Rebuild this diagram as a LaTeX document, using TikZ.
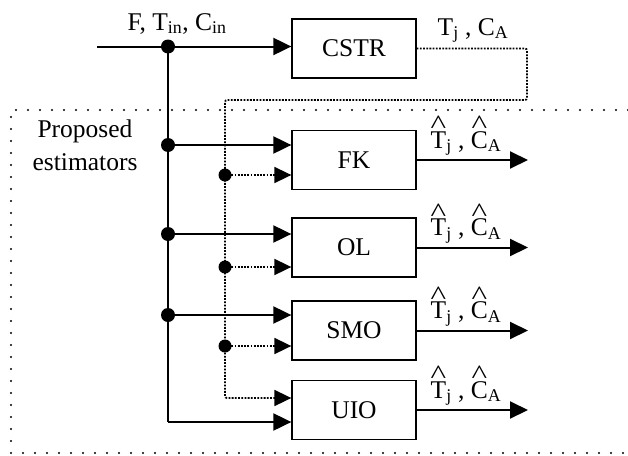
\documentclass[tikz,border=0pt]{standalone}
\usepackage{fontspec}
\setmainfont{Liberation Serif}
\usetikzlibrary{arrows.meta}
\newcommand\hatc[1]{\ooalign{#1\cr\hidewidth\raisebox{0.55em}{\scalebox{1.3}[1.05]{\string^}}\hidewidth\cr}}
\begin{document}
\begin{tikzpicture}[x=1pt,y=-1pt,font=\fontsize{25.5}{30}\selectfont,
  box/.style={draw,line width=1.3pt,minimum width=124pt,minimum height=59pt,inner sep=0pt},
  sig/.style={line width=2pt,-{Triangle[length=18pt,width=17pt]}},
  dsig/.style={line width=1.8pt,dash pattern=on 1.8pt off 1.4pt,-{Triangle[length=17pt,width=16pt]}},
  sline/.style={line width=2pt},
  jdot/.style={circle,fill,inner sep=0pt,minimum size=14pt},
  frame/.style={line width=2.2pt,line cap=round,dash pattern=on 0pt off 12pt},
  lbl/.style={anchor=base,inner sep=0pt}]
\useasboundingbox (0,0) rectangle (628,455);
% frame
\draw[frame] (628,110) -- (11,110) -- (11,453) -- (628,453);
% boxes
\node[box] (cstr) at (354,48.5) {CSTR};
\node[box] (fk) at (354,160) {FK};
\node[box] (ol) at (354,247.5) {OL};
\node[box] (smo) at (354,330.5) {SMO};
\node[box] (uio) at (354,410) {UIO};
% coordinates
\coordinate (src) at (97,46.5);
\coordinate (j0) at (168,46.5);
\coordinate (j1) at (168,145);
\coordinate (j2) at (168,234);
\coordinate (j3) at (168,315);
\coordinate (jend) at (168,422);
\coordinate (fb1) at (527,48.5);
\coordinate (fb2) at (527,100);
\coordinate (fb3) at (225,100);
\coordinate (d1) at (225,175);
\coordinate (d2) at (225,267);
\coordinate (d3) at (225,346);
\coordinate (dend) at (225,398);
\coordinate (o1) at (528,160);
\coordinate (o2) at (528,247.5);
\coordinate (o3) at (528,330.5);
\coordinate (o4) at (528,410);
% solid input
\draw[sig] (src) -- (cstr.west |- src);
\draw[sline] (j0) -- (jend);
\draw[sig] (jend) -- (jend -| uio.west);
\draw[sig] (j1) -- (j1 -| fk.west);
\draw[sig] (j2) -- (j2 -| ol.west);
\draw[sig] (j3) -- (j3 -| smo.west);
% dotted feedback
\draw[dsig,rounded corners=2pt] (cstr.east) -- (fb1) -- (fb2) -- (fb3) -- (dend) -- (dend -| uio.west);
\draw[dsig] (d1) -- (d1 -| fk.west);
\draw[dsig] (d2) -- (d2 -| ol.west);
\draw[dsig] (d3) -- (d3 -| smo.west);
% dots
\node[jdot] (n0) at (j0) {};
\node[jdot] (n1) at (j1) {};
\node[jdot] (n2) at (j2) {};
\node[jdot] (n3) at (j3) {};
\node[jdot,minimum size=13pt] (m1) at (d1) {};
\node[jdot,minimum size=13pt] (m2) at (d2) {};
\node[jdot,minimum size=13pt] (m3) at (d3) {};
% outputs
\draw[sig] (fk.east) -- (o1);
\draw[sig] (ol.east) -- (o2);
\draw[sig] (smo.east) -- (o3);
\draw[sig] (uio.east) -- (o4);
% labels
\node[lbl] (lin) at (177,30) {F, T\textsubscript{in}, C\textsubscript{in}};
\node[lbl] (lout) at (473,35) {T\textsubscript{j} , C\textsubscript{A}};
\node[lbl] (p1) at (85,137) {Proposed};
\node[lbl] (p2) at (85,170) {estimators};
\node[lbl] (h1) at (466,148) {\hatc{T}\textsubscript{j} , \hatc{C}\textsubscript{A}};
\node[lbl] (h2) at (466,235.5) {\hatc{T}\textsubscript{j} , \hatc{C}\textsubscript{A}};
\node[lbl] (h3) at (466,318.5) {\hatc{T}\textsubscript{j} , \hatc{C}\textsubscript{A}};
\node[lbl] (h4) at (466,398) {\hatc{T}\textsubscript{j} , \hatc{C}\textsubscript{A}};
\end{tikzpicture}
\end{document}
